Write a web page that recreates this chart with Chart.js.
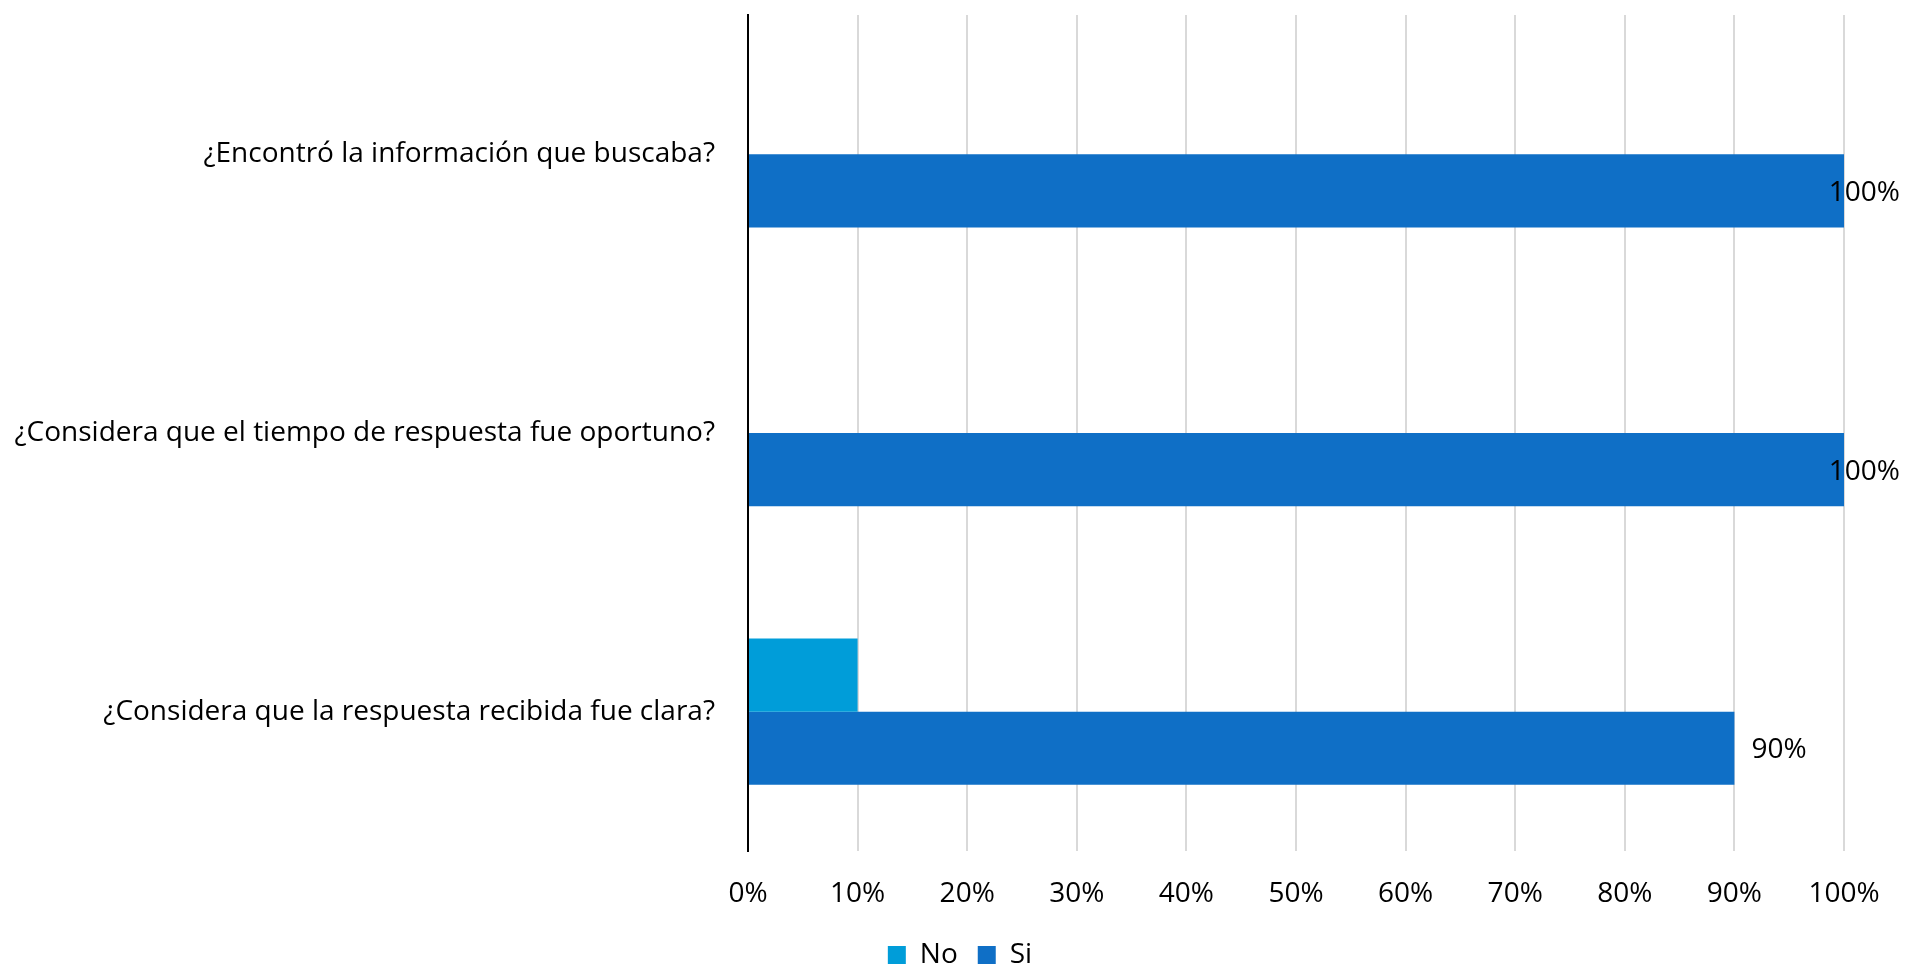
<!DOCTYPE html>
<html lang="es">
<head>
<meta charset="utf-8">
<title>Encuesta de satisfacción</title>
<script src="https://cdn.jsdelivr.net/npm/chart.js@4/dist/chart.umd.min.js"></script>
<style>
    html, body { margin: 0; padding: 0; background: #fff; }
    #wrap { width: 1908px; height: 973px; position: relative; }
</style>
</head>
<body>
<div id="wrap"><canvas id="chart"></canvas></div>
<script>
// Preguntas de la encuesta (de arriba hacia abajo)
const preguntas = [
    '¿Encontró la información que buscaba?',
    '¿Considera que el tiempo de respuesta fue oportuno?',
    '¿Considera que la respuesta recibida fue clara?'
];
const valoresNo = [0, 0, 10];
const valoresSi = [100, 100, 90];
const ticksX = [0, 10, 20, 30, 40, 50, 60, 70, 80, 90, 100];

const FONT = '"Open Sans", "Liberation Sans", sans-serif';
const FONT_SIZE = 28;

// Etiquetas de porcentaje al final de cada barra
const valueLabels = {
    id: 'valueLabels',
    afterDatasetsDraw(chart) {
        const ctx = chart.ctx;
        ctx.save();
        ctx.font = FONT_SIZE + 'px ' + FONT;
        ctx.fillStyle = '#000';
        ctx.textBaseline = 'middle';
        ctx.textAlign = 'left';
        chart.data.datasets.forEach((ds, i) => {
            if (!ds.showValues) return;
            chart.getDatasetMeta(i).data.forEach((bar, j) => {
                const text = ds.data[j] + '%';
                const w = ctx.measureText(text).width;
                const x = Math.min(bar.x + 17, chart.width - 8 - w);
                ctx.fillText(text, x, bar.y + 2);
            });
        });
        ctx.restore();
    }
};

// Centra la leyenda en todo el ancho del lienzo
const legendCenter = {
    id: 'legendCenter',
    afterLayout(chart) {
        if (chart.legend) {
            chart.legend.left = 12;
            chart.legend.right = chart.width;
        }
    }
};

new Chart(document.getElementById('chart'), {
    type: 'bar',
    data: {
        labels: preguntas,
        datasets: [
            {
                label: 'No',
                data: valoresNo,
                backgroundColor: '#009DD9',
                categoryPercentage: 0.525,
                barPercentage: 1.0
            },
            {
                label: 'Si',
                data: valoresSi,
                backgroundColor: '#0F6FC6',
                categoryPercentage: 0.525,
                barPercentage: 1.0,
                showValues: true
            }
        ]
    },
    plugins: [valueLabels, legendCenter],
    options: {
        indexAxis: 'y',
        responsive: true,
        maintainAspectRatio: false,
        animation: false,
        layout: { padding: { top: 15, right: 64, bottom: -6, left: 0 } },
        plugins: {
            legend: {
                position: 'bottom',
                labels: {
                    font: { family: FONT, size: FONT_SIZE },
                    color: '#000',
                    boxWidth: 18,
                    boxHeight: 18,
                    padding: 20,
                    useBorderRadius: false
                }
            },
            tooltip: { enabled: false }
        },
        scales: {
            x: {
                min: 0,
                max: 100,
                afterBuildTicks(scale) {
                    scale.ticks = ticksX.map(v => ({ value: v }));
                },
                ticks: {
                    font: { family: FONT, size: FONT_SIZE },
                    color: '#000',
                    padding: 26,
                    maxRotation: 0,
                    callback: v => v + '%'
                },
                grid: { color: '#d9d9d9', lineWidth: 2, drawTicks: false },
                border: { display: false },
                afterFit(scale) {
                    scale.height = 70;
                    scale.paddingLeft = 0;
                    scale.paddingRight = 0;
                }
            },
            y: {
                ticks: {
                    font: { family: FONT, size: FONT_SIZE },
                    color: '#000',
                    padding: 33
                },
                grid: { display: false, drawTicks: false },
                border: { display: true, color: '#000', width: 2 },
                afterFit(scale) {
                    scale.width = 748;
                    scale.paddingTop = 0;
                    scale.paddingBottom = 0;
                }
            }
        }
    }
});
</script>
</body>
</html>
